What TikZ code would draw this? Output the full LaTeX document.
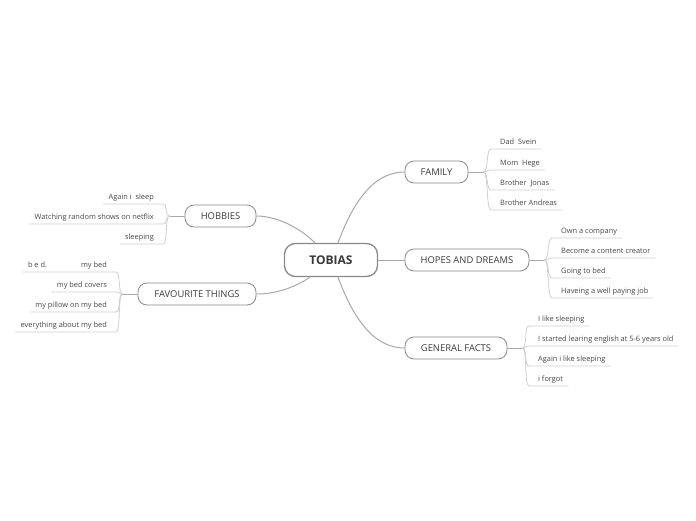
\documentclass[tikz,border=0pt]{standalone}
\usepackage{fontspec}
\setmainfont{Open Sans}
\definecolor{txt}{HTML}{3A3A3A}
\definecolor{subtxt}{HTML}{484848}
\definecolor{bord}{HTML}{8A8A8A}
\definecolor{mainln}{HTML}{A8A8A8}
\definecolor{subln}{HTML}{CFCFCF}
\begin{document}
\begin{tikzpicture}[x=1pt,y=-1pt,
  central/.style={draw=bord, line width=1.3pt, rounded corners=11pt, fill=white, text=txt,
    font=\fontsize{12}{14}\selectfont\bfseries, minimum height=33pt, inner sep=0pt},
  topic/.style={draw=bord, line width=0.8pt, rounded corners=9pt, fill=white, text=txt,
    font=\fontsize{9.4}{11}\selectfont, minimum height=22pt, inner sep=0pt},
  sub/.style={font=\fontsize{7.4}{9}\selectfont, text=subtxt, inner sep=0pt, text height=5.5pt, text depth=1.5pt},
  mainline/.style={draw=mainln, line width=1pt},
  forkline/.style={draw=mainln, line width=0.9pt},
  subline/.style={draw=subln, line width=0.8pt}]
\path[fill=white] (0,0) rectangle (696,520);
\useasboundingbox (0,0) rectangle (696,520);

% main nodes
\node[central, minimum width=93pt] (tob) at (331,260) {TOBIAS};
\node[topic, minimum width=63pt] (fam) at (436.5,172) {FAMILY};
\node[topic, minimum width=124pt] (hop) at (467,260) {HOPES AND DREAMS};
\node[topic, minimum width=102pt] (gen) at (456,348) {GENERAL FACTS};
\node[topic, minimum width=71pt] (hob) at (220.5,216) {HOBBIES};
\node[topic, minimum width=118pt] (fav) at (197,294) {FAVOURITE THINGS};

% main connectors
\draw[mainline] ([xshift=7pt]tob.north) .. controls (352,205) and (372,172) .. (fam.west);
\draw[mainline] (tob.east) -- (hop.west);
\draw[mainline] ([xshift=7pt]tob.south) .. controls (352,315) and (372,348) .. (gen.west);
\draw[mainline] ([xshift=-16pt]tob.north) .. controls (298,226) and (275,216) .. (hob.east);
\draw[mainline] ([xshift=-21pt]tob.south) .. controls (294,288) and (275,294) .. (fav.east);

% FAMILY children
\node[sub, anchor=base west] (f1) at (500,144) {Dad\ \ Svein};
\node[sub, anchor=base west] (f2) at (500,165) {Mom\ \ Hege};
\node[sub, anchor=base west] (f3) at (500,185) {Brother\ \ Jonas};
\node[sub, anchor=base west] (f4) at (500,205) {Brother Andreas};
\draw[forkline] (fam.east) -- ++(15,0) coordinate (ff);
\foreach \n in {f1,f2,f3,f4}{
  \draw[subline] (ff) .. controls +(5,0) and +(-5,0) .. ([xshift=-9pt,yshift=-5pt]\n.base west)
    -- ([xshift=5pt,yshift=-5pt]\n.base east);
}

% HOPES children
\node[sub, anchor=base west] (h1) at (561,233) {Own a company};
\node[sub, anchor=base west] (h2) at (561,253) {Become a content creator};
\node[sub, anchor=base west] (h3) at (561,273) {Going to bed};
\node[sub, anchor=base west] (h4) at (561,293) {Haveing a well paying job};
\draw[forkline] (hop.east) -- ++(15,0) coordinate (hf);
\foreach \n in {h1,h2,h3,h4}{
  \draw[subline] (hf) .. controls +(5,0) and +(-5,0) .. ([xshift=-9pt,yshift=-5pt]\n.base west)
    -- ([xshift=5pt,yshift=-5pt]\n.base east);
}

% GENERAL FACTS children
\node[sub, anchor=base west] (g1) at (538,321) {I like sleeping};
\node[sub, anchor=base west] (g2) at (538,341) {I started learing english at 5-6 years old};
\node[sub, anchor=base west] (g3) at (538,361) {Again i like sleeping};
\node[sub, anchor=base west] (g4) at (538,381) {i forgot};
\draw[forkline] (gen.east) -- ++(15,0) coordinate (gf);
\foreach \n in {g1,g2,g3,g4}{
  \draw[subline] (gf) .. controls +(5,0) and +(-5,0) .. ([xshift=-9pt,yshift=-5pt]\n.base west)
    -- ([xshift=5pt,yshift=-5pt]\n.base east);
}

% HOBBIES children
\node[sub, anchor=base east] (b1) at (154,199) {Again i\ \ sleep};
\node[sub, anchor=base east] (b2) at (154,219) {Watching random shows on netflix};
\node[sub, anchor=base east] (b3) at (154,239) {sleeping};
\draw[forkline] (hob.west) -- ++(-15,0) coordinate (bf);
\foreach \n in {b1,b2,b3}{
  \draw[subline] (bf) .. controls +(-5,0) and +(5,0) .. ([xshift=9pt,yshift=-5pt]\n.base east)
    -- ([xshift=-5pt,yshift=-5pt]\n.base west);
}

% FAVOURITE THINGS children
\node[sub, anchor=base east] (v1) at (107,267) {b e d.\hspace{34pt}my bed};
\node[sub, anchor=base east] (v2) at (107,287) {my bed covers};
\node[sub, anchor=base east] (v3) at (107,307) {my pillow on my bed};
\node[sub, anchor=base east] (v4) at (107,327) {everything about my bed};
\draw[forkline] (fav.west) -- ++(-15,0) coordinate (vf);
\foreach \n in {v1,v2,v3,v4}{
  \draw[subline] (vf) .. controls +(-5,0) and +(5,0) .. ([xshift=9pt,yshift=-5pt]\n.base east)
    -- ([xshift=-5pt,yshift=-5pt]\n.base west);
}
\end{tikzpicture}
\end{document}
